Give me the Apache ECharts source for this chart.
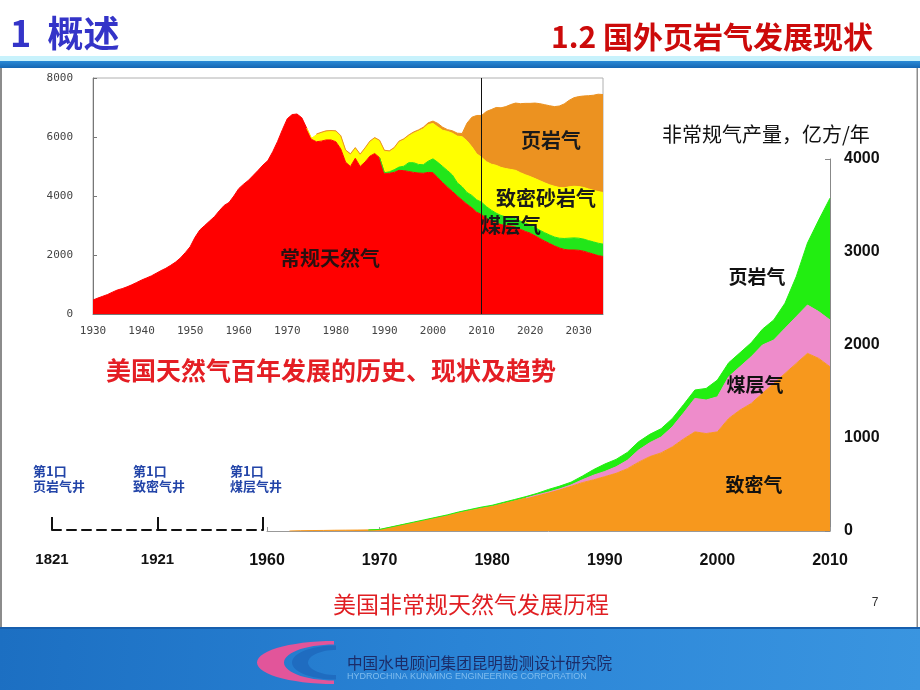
<!DOCTYPE html>
<html><head><meta charset="utf-8">
<script src="https://cdn.jsdelivr.net/npm/echarts@6/dist/echarts.min.js"></script>
<style>html,body{margin:0;padding:0;background:#fff}#c{width:920px;height:690px}</style>
</head><body><div id="c"></div><script>
// ---------- inset: US natural gas, 1930-2035 (null = not yet produced) ----------
const insetStartYear = 1930;
const insetConventional = [
  474,540,600,660,740,813,860,920,990,1070,
  1150,1220,1290,1380,1470,1550,1650,1760,1900,2080,
  2280,2600,2850,3000,3150,3300,3500,3680,3780,4000,
  4250,4400,4530,4700,4870,5050,5200,5500,5850,6250,
  6620,6760,6780,6650,6300,5920,5840,5860,5900,5900,
  5840,5600,5150,5000,5280,5000,5150,5350,5440,5300,
  4770,4770,4800,4870,4860,4830,4800,4780,4770,4800,
  4790,4620,4450,4300,4150,4000,3860,3720,3600,3450,
  3370,3240,3150,3080,3030,3000,2980,2950,2870,2800,
  2740,2650,2560,2470,2390,2310,2240,2190,2170,2170,
  2160,2130,2080,2030,1980,1950];
const _ = null;
const insetCBM = [
  _,_,_,_,_,_,_,_,_,_, _,_,_,_,_,_,_,_,_,_,
  _,_,_,_,_,_,_,_,_,_, _,_,_,_,_,_,_,_,_,_,
  _,_,_,_,_,_,_,_,_,_, _,_,_,_,_,_,_,_,_,0,
  20,50,90,110,150,300,330,290,290,380,
  470,520,550,560,560,450,450,400,420,420,
  420,400,370,340,310,290,280,280,280,280,
  280,280,280,285,290,300,330,370,400,410,
  410,410,410,415,420,420];
const insetTightSand = [
  _,_,_,_,_,_,_,_,_,_, _,_,_,_,_,_,_,_,_,_,
  _,_,_,_,_,_,_,_,_,_, _,_,_,_,_,_,_,_,_,_,
  _,_,_,_,0,40,230,270,280,290,
  340,420,380,400,330,390,450,480,510,560,
  730,680,720,850,900,900,1000,1130,1220,1240,
  1200,1200,1230,1330,1420,1580,1700,1750,1650,1560,
  1520,1525,1560,1620,1630,1640,1640,1640,1640,1640,
  1640,1660,1680,1690,1700,1720,1720,1720,1740,1750,
  1750,1750,1750,1750,1750,1750];
const insetShale = [
  _,_,_,_,_,_,_,_,_,_, _,_,_,_,_,_,_,_,_,_,
  _,_,_,_,_,_,_,_,_,_, _,_,_,_,_,_,_,_,_,_,
  _,_,_,_,_,_,30,30,30,30,
  30,30,30,30,30,30,30,30,30,30,
  30,30,30,30,30,40,40,40,50,60,
  80,120,100,60,80,100,110,600,1000,1300,
  1420,1700,1850,1960,2020,2100,2200,2280,2340,2420,
  2480,2560,2610,2650,2680,2700,2760,2840,2930,3000,
  3050,3100,3160,3220,3300,3320];
const insetNames = ['常规天然气','煤层气','致密砂岩气','页岩气'];

// ---------- main: US unconventional gas, 1960-2010 (亿方/年) ----------
const mainStartYear = 1960;
const mainTightGas = [
  _,_,0,3,5,6,8,9,10,12,
  15,40,65,90,115,140,165,195,220,245,
  265,295,325,355,385,414,445,480,520,550,
  585,620,670,740,800,840,905,990,1066,1048,
  1066,1210,1300,1371,1480,1587,1694,1802,1910,1856,
  1766];
const mainCBM = [
  _,_,_,_,_,_,_,_,_,_,
  _,_,_,_,_,_,_,_,_,_,
  _,_,_,0,3,5,8,15,30,50,
  55,70,90,130,150,170,215,280,360,360,
  377,449,466,503,520,466,485,503,520,503,
  503];
const mainShale = [
  _,_,_,_,_,_,_,_,_,0,
  2,3,4,5,6,7,8,9,10,11,
  12,13,14,15,17,28,30,30,40,60,
  80,80,85,90,90,90,90,90,90,125,
  180,150,150,150,170,216,270,430,667,985,
  1310];
const mainNames = ['致密气','煤层气','页岩气'];

// ---------- timeline of first wells ----------
const timelineYears = ['1821','1921','1960'];
const timelineWells = ['第1口\n页岩气井','第1口\n致密气井','第1口\n煤层气井'];

const CJK = '"Noto Sans CJK SC"';

function yearsFrom(start, n){ const out=[]; for(let i=0;i<n;i++) out.push(String(start+i)); return out; }
const insetYears = yearsFrom(insetStartYear, insetConventional.length);
const mainYears = yearsFrom(mainStartYear, mainTightGas.length);

const insetColors = ['#ff0000','#22e61a','#ffff00','#ec9220'];
const mainColors = ['#f7981d','#ee8ccb','#22ee11'];

const series = [];
[insetConventional, insetCBM, insetTightSand, insetShale].forEach((arr,k)=>{
  const s = {
    name: insetNames[k], type:'line', xAxisIndex:0, yAxisIndex:0, stack:'inset',
    symbol:'none', showSymbol:false, smooth:false, data: arr.slice(),
    lineStyle:{width:1, color:insetColors[k]}, areaStyle:{color:insetColors[k], opacity:1},
    itemStyle:{color:insetColors[k]}, z: 2
  };
  if(k===3){
    s.markLine = {silent:true, symbol:'none', label:{show:false},
      lineStyle:{color:'#111', width:1, type:'solid'}, data:[{xAxis:'2010'}]};
  }
  series.push(s);
});
[mainTightGas, mainCBM, mainShale].forEach((arr,k)=>{
  series.push({
    name: mainNames[k], type:'line', xAxisIndex:1, yAxisIndex:1, stack:'main',
    symbol:'none', showSymbol:false, smooth:false, data: arr.slice(),
    lineStyle:{width:1, color:mainColors[k]}, areaStyle:{color:mainColors[k], opacity:1},
    itemStyle:{color:mainColors[k]}, z: 2
  });
});

function txt(text, x, y, font, fill, align, extra){
  return {type:'text', silent:true, z:10, style:Object.assign({text:text, x:x, y:y, font:font, fill:fill,
    textAlign: align||'left', textVerticalAlign:'middle'}, extra||{})};
}
// crescent polygon for the logo (decoration)
function crescent(cx, cy, rxo, ryo, rxi, ryi){
  const pts = [];
  for(let a=90;a<=270;a+=6){ const r=a*Math.PI/180; pts.push([cx+rxo*Math.cos(r), cy-ryo*Math.sin(r)]); }
  for(let a=270;a>=90;a-=6){ const r=a*Math.PI/180; pts.push([cx+rxi*Math.cos(r), cy-ryi*Math.sin(r)]); }
  return pts;
}

const graphic = [
  {type:'rect', silent:true, shape:{x:0,y:56,width:920,height:5}, style:{fill:'#c8f2fc'}},
  {type:'rect', silent:true, shape:{x:0,y:61,width:920,height:7},
   style:{fill:new echarts.graphic.LinearGradient(0,0,0,1,[{offset:0,color:'#2a8ad6'},{offset:1,color:'#1566b3'}])}},
  {type:'rect', silent:true, shape:{x:0,y:68,width:2,height:559}, style:{fill:'#8c8c8c'}},
  {type:'rect', silent:true, shape:{x:916.5,y:68,width:1.5,height:559}, style:{fill:'#8c8c8c'}},
  {type:'rect', silent:true, shape:{x:0,y:627,width:920,height:63},
   style:{fill:new echarts.graphic.LinearGradient(0,0,1,1,[{offset:0,color:'#1c6fc2'},{offset:0.5,color:'#2a84d6'},{offset:1,color:'#3a95e0'}])}},
  {type:'rect', silent:true, shape:{x:0,y:627,width:920,height:2}, style:{fill:'#175fae'}},
  {type:'polygon', silent:true, shape:{points:crescent(334,662.5,77,21.5,50,18)}, style:{fill:'#e2559a'}},
  {type:'polygon', silent:true, shape:{points:crescent(336,662.5,44,17,28,12.5)}, style:{fill:'#1f6cc0'}},
  txt('中国水电顾问集团昆明勘测设计研究院', 347, 663, '15.6px '+CJK, '#1b2c68'),
  txt('HYDROCHINA KUNMING ENGINEERING CORPORATION', 347, 677, '9px "Liberation Sans"', '#7fbcee'),
  txt('1  概述', 10, 33, 'bold 36px '+CJK, '#3434c8'),
  txt('1.2 国外页岩气发展现状', 873, 37, 'bold 30px '+CJK, '#cc0a0a', 'right'),
  txt('美国天然气百年发展的历史、现状及趋势', 331, 370, 'bold 25px '+CJK, '#e41e24', 'center'),
  txt('美国非常规天然气发展历程', 471, 604, '23px '+CJK, '#e01e22', 'center'),
  txt('7', 875, 603, '12px "Liberation Sans"', '#333', 'center'),
  txt('非常规气产量，亿方/年', 662, 134, '20px '+CJK, '#111'),
  txt('页岩气', 757, 277, 'bold 19px '+CJK, '#111', 'center'),
  txt('煤层气', 755, 385, 'bold 19px '+CJK, '#111', 'center'),
  txt('致密气', 754, 485, 'bold 19px '+CJK, '#111', 'center'),
  txt('页岩气', 551, 140, 'bold 20px '+CJK, '#1a1a1a', 'center'),
  txt('致密砂岩气', 546, 198, 'bold 20px '+CJK, '#1a1a1a', 'center'),
  txt('煤层气', 511, 225, 'bold 20px '+CJK, '#1a1a1a', 'center'),
  txt('常规天然气', 330, 258, 'bold 20px '+CJK, '#2a1010', 'center'),
  txt(timelineWells[0], 33, 479, 'bold 13px '+CJK, '#2244a8', 'left', {lineHeight:15}),
  txt(timelineWells[1], 133, 479, 'bold 13px '+CJK, '#2244a8', 'left', {lineHeight:15}),
  txt(timelineWells[2], 230, 479, 'bold 13px '+CJK, '#2244a8', 'left', {lineHeight:15})
];

const plain = v => String(v);

const option = {
  animation:false,
  backgroundColor:'#ffffff',
  grid:[
    {left:93, top:78, width:510, height:236, show:true, borderColor:'#b0b0b0', borderWidth:1, backgroundColor:'rgba(0,0,0,0)'},
    {left:267, right:90, top:159, bottom:159},
    {left:52, width:211, top:480, height:50}
  ],
  xAxis:[
    {type:'category', gridIndex:0, data:insetYears, boundaryGap:false,
     axisLine:{lineStyle:{color:'#777'}}, axisTick:{show:false}, splitLine:{show:false},
     axisLabel:{interval:9, margin:12, fontFamily:'DejaVu Sans Mono', fontSize:11, color:'#444'}},
    {type:'category', gridIndex:1, data:mainYears, boundaryGap:false,
     axisLine:{lineStyle:{color:'#999'}}, axisTick:{inside:true, interval:9, length:4, lineStyle:{color:'#999'}}, splitLine:{show:false},
     axisLabel:{interval:9, margin:22, fontFamily:'Liberation Sans', fontWeight:'bold', fontSize:16, color:'#111'}},
    {type:'category', gridIndex:2, data:timelineYears, boundaryGap:false,
     axisLine:{lineStyle:{color:'#111', width:2, type:[9,6]}},
     axisTick:{inside:true, length:13, lineStyle:{color:'#111', width:2}},
     axisLabel:{margin:22, fontFamily:'Liberation Sans', fontWeight:'bold', fontSize:15, color:'#111',
       formatter:(v,i)=> i===timelineYears.length-1 ? '' : v}}
  ],
  yAxis:[
    {type:'value', gridIndex:0, min:0, max:8000, interval:2000,
     axisLine:{show:true, lineStyle:{color:'#777'}}, axisTick:{show:true, inside:true, length:4, lineStyle:{color:'#777'}},
     splitLine:{show:false},
     axisLabel:{formatter:plain, margin:20, fontFamily:'DejaVu Sans Mono', fontSize:11, color:'#444'}},
    {type:'value', gridIndex:1, position:'right', min:0, max:4000, interval:1000,
     axisLine:{show:true, lineStyle:{color:'#888'}}, axisTick:{show:true, inside:true, length:5, lineStyle:{color:'#888'}},
     splitLine:{show:false},
     axisLabel:{formatter:plain, margin:14, fontFamily:'Liberation Sans', fontWeight:'bold', fontSize:16, color:'#111'}},
    {type:'value', gridIndex:2, min:0, max:1, show:false}
  ],
  series: series,
  graphic: graphic
};
const chart = echarts.init(document.getElementById('c'), null, {renderer:'canvas'});
chart.setOption(option);
</script></body></html>
